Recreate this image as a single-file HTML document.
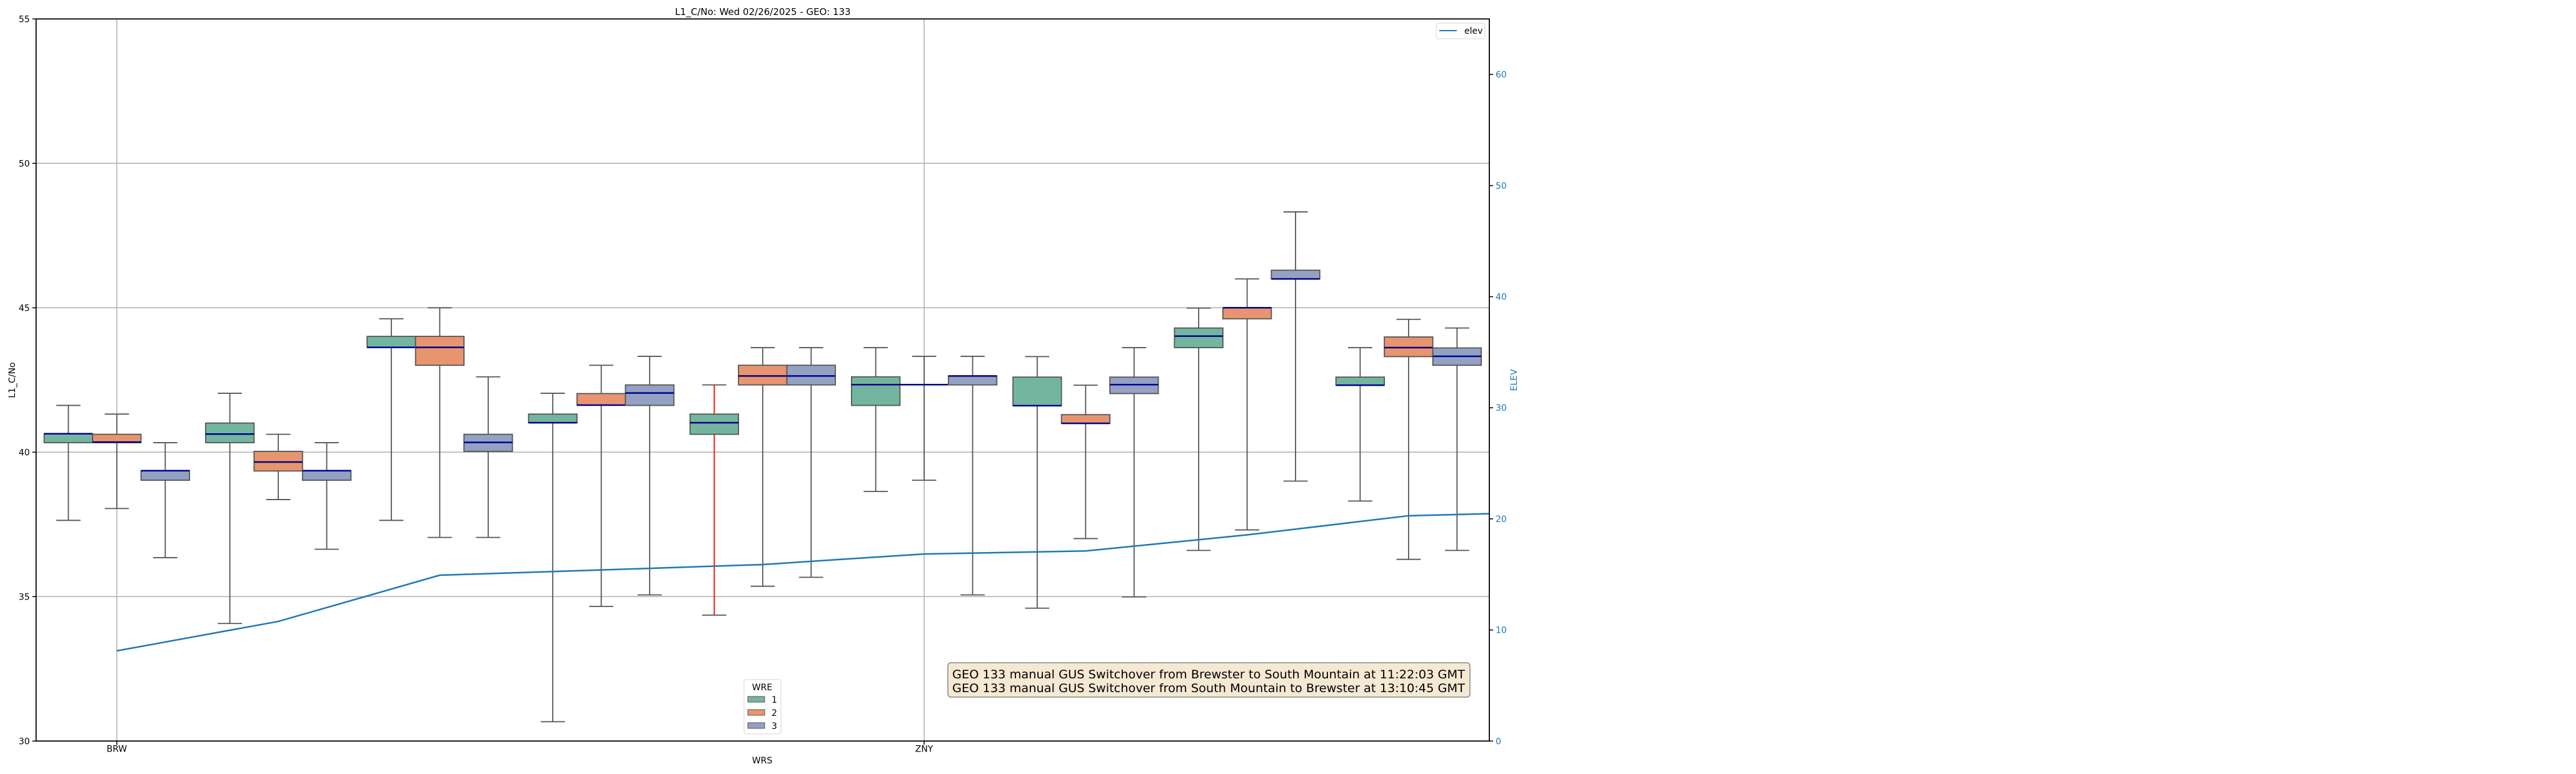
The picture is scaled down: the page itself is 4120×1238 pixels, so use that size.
<!DOCTYPE html>
<html><head><meta charset="utf-8"><style>
html,body{margin:0;padding:0;background:#fff;}
svg{display:block;font-family:"DejaVu Sans","Liberation Sans",sans-serif;}
</style></head><body>
<svg id="chart" width="4120" height="1238" viewBox="0 0 4120 1238"></svg>
<script>
const categories = ["BRW","G2","G3","G4","G5","ZNY","G7","G8","G9"];
const tickLabels = {0:"BRW",5:"ZNY"};
const hues = ["1","2","3"];
// per group, per hue: [whiskerLow, q1, median, q3, whiskerHigh]
const statsHue1 = [[37.64,40.33,40.64,40.64,41.62],[34.07,40.33,40.63,41.01,42.04],[37.64,43.63,43.63,44.01,44.62],[30.67,41.02,41.02,41.32,42.04],[34.36,40.62,41.02,41.32,42.33],[38.64,41.62,42.34,42.61,43.62],[34.6,41.61,41.61,42.6,43.31],[36.6,43.62,44.02,44.3,44.99],[38.31,42.32,42.32,42.6,43.62]];
const statsHue2 = [[38.05,40.33,40.35,40.62,41.32],[38.36,39.35,39.66,40.03,40.62],[37.05,43.01,43.63,44.01,45.0],[34.66,41.63,41.63,42.03,43.01],[35.36,42.33,42.64,43.01,43.62],[39.03,42.34,42.34,42.34,43.32],[37.01,41.0,41.0,41.3,42.32],[37.31,44.62,45.0,45.0,46.0],[36.29,43.31,43.62,43.99,44.6]];
const statsHue3 = [[36.35,39.03,39.36,39.36,40.33],[36.64,39.03,39.36,39.36,40.33],[37.05,40.03,40.34,40.62,42.61],[35.06,41.62,42.05,42.33,43.32],[35.67,42.33,42.64,43.01,43.62],[35.06,42.33,42.64,42.64,43.32],[34.99,42.03,42.34,42.6,43.62],[39.0,46.0,46.0,46.3,48.32],[36.6,43.01,43.32,43.61,44.3]];
const elevValues = [8.12,10.77,14.93,15.4,15.89,16.84,17.11,18.56,20.28,20.66];
const yTicks = [30,35,40,45,50,55];
const y2Ticks = [0,10,20,30,40,50,60];

const NS="http://www.w3.org/2000/svg";
const svg=document.getElementById('chart');
const L=57.7,R=2382,T=30.3,B=1185.3;
const groupW=(R-L)/categories.length;
function xc(i){return L+groupW*(i+0.5);}
function y(v){return B-(v-30)/(55-30)*(B-T);}
function y2(e){return B-e/65*(B-T);}
const boxW=groupW*0.9/3;
const fills=["#73b6a0","#e8956f","#93a1c3"];
function mk(tag,attrs,parent){const e=document.createElementNS(NS,tag);for(const k in attrs)e.setAttribute(k,attrs[k]);(parent||svg).appendChild(e);return e;}

const grid=mk('g',{});


yTicks.forEach(t=>{if(t>30&&t<55)mk('line',{x1:L,x2:R,y1:y(t),y2:y(t),stroke:'#b0b0b0','stroke-width':1.5},grid);});
Object.keys(tickLabels).forEach(i=>{mk('line',{x1:xc(+i),x2:xc(+i),y1:T,y2:B,stroke:'#b0b0b0','stroke-width':1.5},grid);});

const allStats=[statsHue1,statsHue2,statsHue3];
allStats.forEach((stats,h)=>{
  stats.forEach((s,i)=>{
    const g=mk('g',{});
    
    
    const cx=xc(i)+(h-1)*boxW;
    const wc=(i===4&&h===0)?'#ff0000':'#555555';
    mk('line',{x1:cx,x2:cx,y1:y(s[0]),y2:y(s[1]),stroke:wc,'stroke-width':1.8},g);
    mk('line',{x1:cx,x2:cx,y1:y(s[3]),y2:y(s[4]),stroke:wc,'stroke-width':1.8},g);
    mk('line',{x1:cx-boxW/4,x2:cx+boxW/4,y1:y(s[0]),y2:y(s[0]),stroke:'#555','stroke-width':1.8},g);
    mk('line',{x1:cx-boxW/4,x2:cx+boxW/4,y1:y(s[4]),y2:y(s[4]),stroke:'#555','stroke-width':1.8},g);
    if(s[3]>s[1]) mk('rect',{x:cx-boxW/2,y:y(s[3]),width:boxW,height:y(s[1])-y(s[3]),fill:fills[h],stroke:'#555','stroke-width':1.8},g);
    mk('line',{x1:cx-boxW/2,x2:cx+boxW/2,y1:y(s[2]),y2:y(s[2]),stroke:'#00008b','stroke-width':2.5},g);
  });
});

mk('clipPath',{id:'pc'}).appendChild((()=>{const r=document.createElementNS(NS,'rect');r.setAttribute('x',L);r.setAttribute('y',T);r.setAttribute('width',R-L);r.setAttribute('height',B-T);return r;})());
const pts=elevValues.map((e,i)=>xc(i)+','+y2(e)).join(' ');
const el=mk('polyline',{points:pts,fill:'none',stroke:'#1f77b4','stroke-width':2.5,'clip-path':'url(#pc)'});



const fr=mk('rect',{x:L,y:T,width:R-L,height:B-T,fill:'none',stroke:'#000','stroke-width':1.8});



yTicks.forEach(t=>{
  mk('line',{x1:L-6,x2:L,y1:y(t),y2:y(t),stroke:'#000','stroke-width':1.5});
  const tx=mk('text',{x:L-10,y:y(t)+5,'text-anchor':'end','font-size':14,fill:'#000'});
  
  
  tx.textContent=t;
});
y2Ticks.forEach(t=>{
  mk('line',{x1:R,x2:R+6,y1:y2(t),y2:y2(t),stroke:'#000','stroke-width':1.5});
  const tx=mk('text',{x:R+10,y:y2(t)+5,'font-size':14,fill:'#1f77b4'});
  
  
  tx.textContent=t;
});
Object.keys(tickLabels).forEach(i=>{
  mk('line',{x1:xc(+i),x2:xc(+i),y1:B,y2:B+6,stroke:'#000','stroke-width':1.5});
  const tx=mk('text',{x:xc(+i),y:B+17,'text-anchor':'middle','font-size':14});
  
  
  tx.textContent=tickLabels[i];
});
</script>
<svg style="position:absolute;left:0;top:0" width="4120" height="1238">
<text x="1220" y="24" text-anchor="middle" font-size="15">L1_C/No: Wed 02/26/2025 - GEO: 133</text>
<text x="0" y="0" transform="translate(24,608) rotate(-90)" text-anchor="middle" font-size="14">L1_C/No</text>
<text x="0" y="0" transform="translate(2426,608) rotate(-90)" text-anchor="middle" font-size="14" fill="#1f77b4">ELEV</text>
<text x="1219" y="1221" text-anchor="middle" font-size="14">WRS</text>
<g>
<rect x="2297" y="37" width="78" height="25" rx="3" fill="#fff" stroke="#ddd" stroke-width="1.2"/>
<line x1="2302" x2="2330" y1="49" y2="49" stroke="#1f77b4" stroke-width="2"/>
<text x="2342" y="54" font-size="14">elev</text>
</g>
<g>
<rect x="1190" y="1087" width="59" height="87" rx="3" fill="#fff" stroke="#ddd" stroke-width="1.2"/>
<text x="1219" y="1104" text-anchor="middle" font-size="14">WRE</text>
<rect x="1196" y="1114" width="27" height="9" fill="#73b6a0" stroke="#555"/><text x="1234" y="1124" font-size="14">1</text>
<rect x="1196" y="1135" width="27" height="9" fill="#e8956f" stroke="#555"/><text x="1234" y="1145" font-size="14">2</text>
<rect x="1196" y="1156" width="27" height="9" fill="#93a1c3" stroke="#555"/><text x="1234" y="1166" font-size="14">3</text>
</g>
<g>
<rect x="1516" y="1060" width="835" height="55" rx="5" fill="#f5e9d3" stroke="#888" stroke-width="1.5"/>
<text x="1523" y="1085" font-size="19" textLength="820" lengthAdjust="spacingAndGlyphs">GEO 133 manual GUS Switchover from Brewster to South Mountain at 11:22:03 GMT</text>
<text x="1523" y="1107" font-size="19" textLength="820" lengthAdjust="spacingAndGlyphs">GEO 133 manual GUS Switchover from South Mountain to Brewster at 13:10:45 GMT</text>
</g>
</svg>
</body></html>
